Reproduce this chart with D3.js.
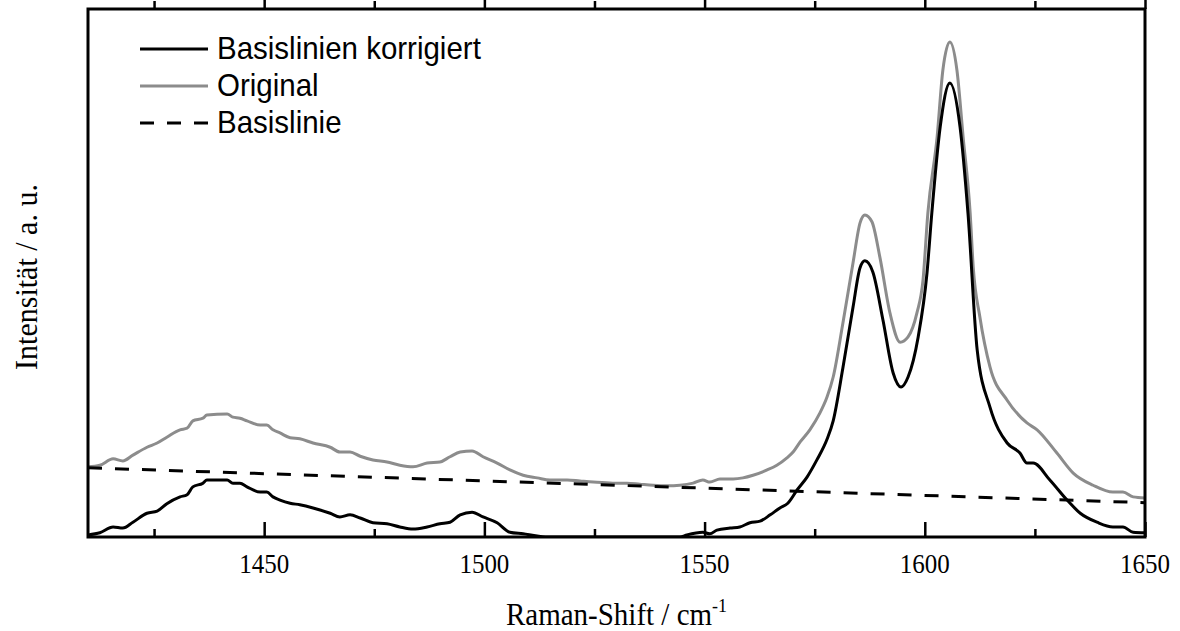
<!DOCTYPE html>
<html>
<head>
<meta charset="utf-8">
<script src="https://cdn.jsdelivr.net/npm/d3@7"></script>
<style>
  html, body { margin: 0; padding: 0; background: #fff; }
  svg { display: block; }
</style>
</head>
<body>
<svg id="chart" width="1180" height="631"></svg>
<script>
// Raman spectrum: original signal, linear baseline and baseline-corrected signal
const origShift = [1410.0, 1412.7, 1415.7, 1417.9, 1420.2, 1423.4, 1425.7, 1427.9, 1430.9, 1432.5,
  1433.8, 1436.1, 1437.0, 1441.6, 1442.9, 1444.5, 1446.1, 1449.1, 1450.6, 1452.0,
  1453.6, 1455.9, 1458.1, 1461.1, 1465.0, 1467.2, 1469.5, 1471.8, 1474.7, 1477.9,
  1480.8, 1483.8, 1487.0, 1489.9, 1492.2, 1494.5, 1497.2, 1499.7, 1502.9, 1505.8,
  1508.8, 1512.0, 1514.9, 1518.8, 1521.7, 1524.7, 1529.2, 1532.4, 1535.3, 1538.3,
  1541.5, 1544.4, 1547.4, 1549.6, 1551.2, 1553.5, 1556.5, 1558.7, 1561.0, 1564.2,
  1566.4, 1568.7, 1570.1, 1571.7, 1573.9, 1576.2, 1577.8, 1579.2, 1581.4, 1583.7,
  1585.3, 1586.4, 1588.0, 1589.8, 1592.1, 1594.4, 1596.2, 1598.2, 1599.6, 1600.7,
  1602.8, 1604.1, 1605.7, 1607.3, 1608.7, 1610.3, 1611.0, 1612.5, 1614.8, 1618.7,
  1623.2, 1625.5, 1630.0, 1633.7, 1638.2, 1642.7, 1645.0, 1647.3, 1650.0];
const origIntensity = [13.3, 13.6, 14.8, 14.4, 15.5, 17.0, 17.8, 18.9, 20.3, 20.6,
  22.0, 22.5, 23.1, 23.3, 22.7, 22.5, 22.0, 21.2, 21.2, 20.3,
  19.7, 18.8, 18.6, 17.8, 17.0, 16.1, 16.1, 15.3, 14.6, 14.2,
  13.6, 13.3, 14.0, 14.2, 15.2, 16.1, 16.3, 15.2, 14.0, 12.7,
  11.7, 11.2, 10.8, 10.8, 10.6, 10.4, 10.2, 10.2, 10.0, 9.8,
  9.7, 9.8, 10.2, 10.8, 10.4, 11.0, 11.0, 11.2, 11.7, 12.7,
  13.6, 15.0, 16.1, 18.0, 20.3, 23.5, 26.5, 30.3, 40.5, 51.9,
  59.5, 61.0, 59.7, 53.0, 42.4, 36.9, 37.9, 42.4, 48.7, 61.4,
  75.8, 88.4, 93.75, 88.4, 75.8, 61.4, 51.1, 41.7, 32.2, 25.9,
  21.6, 20.3, 15.9, 12.1, 9.8, 8.5, 8.5, 7.6, 7.4];

const corrShift = [1410.0, 1412.7, 1415.7, 1417.9, 1420.2, 1423.4, 1425.7, 1427.9, 1430.9, 1432.5,
  1433.8, 1436.1, 1437.0, 1441.6, 1442.9, 1444.5, 1446.1, 1449.1, 1450.6, 1452.0,
  1453.6, 1455.9, 1458.1, 1461.1, 1465.0, 1467.2, 1469.5, 1471.8, 1474.7, 1477.9,
  1480.8, 1483.8, 1487.0, 1489.9, 1492.2, 1494.5, 1497.2, 1499.7, 1502.9, 1505.8,
  1508.8, 1512.0, 1514.9, 1525.0, 1535.0, 1544.4, 1546.0, 1549.6, 1551.2, 1552.8,
  1555.8, 1558.0, 1560.3, 1562.6, 1564.9, 1567.1, 1568.9, 1571.0, 1573.3, 1575.5,
  1577.8, 1579.2, 1581.4, 1583.7, 1585.3, 1586.4, 1588.2, 1590.5, 1592.8, 1594.6,
  1596.2, 1598.5, 1600.5, 1601.6, 1603.5, 1605.7, 1608.0, 1609.8, 1611.9, 1614.8,
  1618.7, 1621.6, 1623.2, 1624.6, 1628.4, 1632.3, 1635.3, 1639.1, 1642.7, 1645.0,
  1647.3, 1650.0];
const corrIntensity = [0.4, 0.8, 1.9, 1.7, 2.8, 4.5, 4.9, 6.3, 7.6, 8.0,
  9.5, 10.2, 10.8, 10.8, 10.2, 10.2, 9.5, 8.5, 8.5, 7.6,
  7.0, 6.4, 6.1, 5.5, 4.5, 3.8, 4.2, 3.6, 2.7, 2.5,
  1.9, 1.5, 1.9, 2.5, 2.8, 4.2, 4.7, 3.8, 2.7, 0.9,
  0.6, 0.2, 0.0, 0.0, 0.0, 0.0, 0.4, 0.9, 0.6, 1.3,
  1.7, 1.9, 2.7, 3.0, 4.2, 5.5, 6.4, 8.9, 11.4, 14.6,
  18.5, 22.0, 32.0, 43.5, 51.0, 52.3, 50.2, 41.1, 31.1, 28.4,
  30.3, 37.9, 50.0, 61.4, 77.7, 86.0, 77.7, 61.4, 35.4, 24.6,
  17.8, 15.9, 14.0, 14.0, 10.8, 7.0, 4.5, 2.8, 1.9, 1.9,
  0.9, 0.8];

const baseShift = [1410, 1650];
const baseIntensity = [13.1, 6.5];

const majorTicks = [1450, 1500, 1550, 1600, 1650];
const minorTicks = [1425, 1475, 1525, 1575, 1625];

const legendLabels = ["Basislinien korrigiert", "Original", "Basislinie"];

const svg = d3.select("#chart");
const plot = { left: 88, right: 1145, top: 9, bottom: 537 };
const stretch = 1.08; // glyph height factor for all labels

const x = d3.scaleLinear().domain([1410, 1650]).range([plot.left, plot.right]);
const y = d3.scaleLinear().domain([0, 100]).range([plot.bottom, plot.top]);

svg.append("defs").append("clipPath").attr("id", "plot-clip")
  .append("rect")
  .attr("x", plot.left).attr("y", plot.top)
  .attr("width", plot.right - plot.left).attr("height", plot.bottom - plot.top);

const line = d3.line()
  .x(d => x(d[0]))
  .y(d => y(d[1]))
  .curve(d3.curveMonotoneX);

const series = [
  { key: "Original", pts: d3.zip(origShift, origIntensity), color: "#8c8c8c", dash: null },
  { key: "Basislinie", pts: d3.zip(baseShift, baseIntensity), color: "#000", dash: "14,13" },
  { key: "Basislinien korrigiert", pts: d3.zip(corrShift, corrIntensity), color: "#000", dash: null }
];

const g = svg.append("g").attr("clip-path", "url(#plot-clip)");
g.selectAll("path.series")
  .data(series)
  .join("path")
  .attr("class", "series")
  .attr("d", d => line(d.pts))
  .attr("fill", "none")
  .attr("stroke", d => d.color)
  .attr("stroke-width", 3)
  .attr("stroke-dasharray", d => d.dash)
  .attr("stroke-linejoin", "round");

// Inward ticks on bottom and top edges
const tickLayers = [
  { axis: d3.axisBottom(x), y: plot.bottom },
  { axis: d3.axisTop(x), y: plot.top }
];
tickLayers.forEach(t => {
  const sign = t.y === plot.bottom ? 1 : -1;
  svg.append("g")
    .attr("transform", `translate(0,${t.y})`)
    .call(t.axis.tickValues(majorTicks).tickSize(-15 * sign).tickFormat(""))
    .call(a => a.select(".domain").remove())
    .selectAll("line").attr("stroke", "#000").attr("stroke-width", 2.5);
  svg.append("g")
    .attr("transform", `translate(0,${t.y})`)
    .call(t.axis.tickValues(minorTicks).tickSize(-8 * sign).tickFormat(""))
    .call(a => a.select(".domain").remove())
    .selectAll("line").attr("stroke", "#000").attr("stroke-width", 2.5);
});

// Frame
svg.append("rect")
  .attr("x", plot.left).attr("y", plot.top)
  .attr("width", plot.right - plot.left).attr("height", plot.bottom - plot.top)
  .attr("fill", "none").attr("stroke", "#000").attr("stroke-width", 3);

// Tick labels
svg.append("g")
  .selectAll("text")
  .data(majorTicks)
  .join("text")
  .attr("transform", d => `translate(${x(d)},573) scale(1,${stretch})`)
  .attr("text-anchor", "middle")
  .attr("font-family", "'Liberation Serif', 'Times New Roman', serif")
  .attr("font-size", 25)
  .text(d => d);

// Axis titles
const xTitle = svg.append("text")
  .attr("transform", `translate(${(plot.left + plot.right) / 2},625) scale(1,${stretch})`)
  .attr("text-anchor", "middle")
  .attr("font-family", "'Liberation Serif', 'Times New Roman', serif")
  .attr("font-size", 29);
xTitle.append("tspan").text("Raman-Shift / cm");
xTitle.append("tspan").attr("dy", -12).attr("font-size", 18).text("-1");

svg.append("text")
  .attr("transform", `translate(37,${(plot.top + plot.bottom) / 2 + 4}) rotate(-90) scale(1,${stretch})`)
  .attr("text-anchor", "middle")
  .attr("font-family", "'Liberation Serif', 'Times New Roman', serif")
  .attr("font-size", 30)
  .text("Intensität / a. u.");

// Legend
const legendStyle = {
  "Basislinien korrigiert": { color: "#000", dash: null },
  "Original": { color: "#8c8c8c", dash: null },
  "Basislinie": { color: "#000", dash: "14,13" }
};
const legend = svg.append("g");
legendLabels.forEach((label, i) => {
  const ly = 49 + i * 37;
  const st = legendStyle[label];
  legend.append("line")
    .attr("x1", 140).attr("x2", 208)
    .attr("y1", ly).attr("y2", ly)
    .attr("stroke", st.color).attr("stroke-width", 3)
    .attr("stroke-dasharray", st.dash);
  legend.append("text")
    .attr("transform", `translate(217,${ly + 10}) scale(1,${stretch})`)
    .attr("font-family", "'Liberation Sans', Arial, sans-serif")
    .attr("font-size", 29.5)
    .text(label);
});
</script>
</body>
</html>
